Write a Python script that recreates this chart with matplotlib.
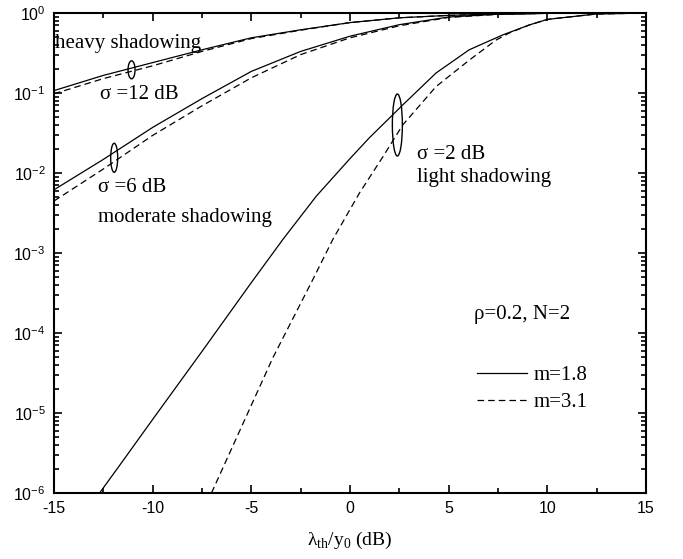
import numpy as np
import matplotlib
matplotlib.use('Agg')
import matplotlib.pyplot as plt
from matplotlib.patches import Ellipse
from matplotlib.transforms import ScaledTranslation
from matplotlib.ticker import LogLocator, FixedLocator, NullFormatter

plt.rcParams['axes.unicode_minus'] = False

# outage probability curves (x in dB, y as log10 value)
x_s12 = [-15, -12.5, -10, -7.5, -5, -2.5, 0, 2.5, 5, 7.5, 10, 12.5, 15]
s12_m18 = [-0.97, -0.78, -0.62, -0.46, -0.31, -0.21, -0.12, -0.06, -0.03, -0.012, -0.004, -0.001, 0.0]
s12_m31 = [-1.01, -0.82, -0.66, -0.48, -0.32, -0.215, -0.12, -0.06, -0.03, -0.012, -0.004, -0.001, 0.0]

x_s6 = [-15, -12.5, -10, -7.5, -5, -2.5, 0, 2.5, 5, 7.5, 10, 12.5, 15]
s6_m18 = [-2.21, -1.83, -1.43, -1.07, -0.73, -0.48, -0.29, -0.146, -0.05, -0.015, -0.004, -0.001, 0.0]
s6_m31 = [-2.35, -1.95, -1.53, -1.16, -0.81, -0.52, -0.31, -0.16, -0.055, -0.017, -0.004, -0.001, 0.0]

x_s2_m18 = [-12.69, -11.66, -10, -7.5, -5, -3.4, -1.71, 0, 0.98, 2.67, 4.36, 6.04, 7.73, 9.08, 10, 12.45, 15]
s2_m18 = [-6, -5.65, -5.08, -4.23, -3.37, -2.83, -2.29, -1.82, -1.56, -1.15, -0.75, -0.46, -0.275, -0.15, -0.08, -0.013, 0.0]

x_s2_m31 = [-7.02, -3.91, -1.88, -0.87, 0.48, 1.66, 2.67, 4.36, 6.04, 7.39, 8.07, 9.08, 10, 12.45, 15]
s2_m31 = [-6, -4.31, -3.33, -2.83, -2.25, -1.80, -1.40, -0.92, -0.59, -0.34, -0.25, -0.15, -0.08, -0.013, 0.0]

legend_labels = ['m=1.8', 'm=3.1']

serif = ['Liberation Serif', 'DejaVu Serif']
sans = ['Liberation Sans', 'DejaVu Sans']

fig = plt.figure(figsize=(6.83, 5.59), dpi=100)
ax = fig.add_axes([54 / 683, 1 - 493 / 559, 592 / 683, 480 / 559])

lw = 0.9
dash = (5.3, 3.2)
curves = [(x_s12, s12_m18, s12_m31), (x_s6, s6_m18, s6_m31)]
for xs, ys_a, ys_b in curves:
    ax.plot(xs, 10 ** np.array(ys_a), color='black', lw=lw)
    ax.plot(xs, 10 ** np.array(ys_b), color='black', lw=lw, dashes=dash)
l1, = ax.plot(x_s2_m18, 10 ** np.array(s2_m18), color='black', lw=lw)
l2, = ax.plot(x_s2_m31, 10 ** np.array(s2_m31), color='black', lw=lw, dashes=dash)

ax.set_yscale('log')
ax.set_xlim(-15, 15)
ax.set_ylim(1e-6, 1e0)

# ticks
ax.xaxis.set_major_locator(FixedLocator([-15, -10, -5, 0, 5, 10, 15]))
ax.xaxis.set_minor_locator(FixedLocator(np.arange(-12.5, 15, 5)))
ax.set_xticklabels(['-15', '-10', '-5', '0', '5', '10', '15'], family=sans, fontsize=11.5)
ax.yaxis.set_major_locator(FixedLocator([1e-6, 1e-5, 1e-4, 1e-3, 1e-2, 1e-1, 1e0]))
ax.yaxis.set_minor_locator(LogLocator(base=10, subs=np.arange(2, 10), numticks=20))
ax.yaxis.set_minor_formatter(NullFormatter())
ax.set_yticklabels([r'$\mathregular{10^{%d}}$' % e for e in range(-6, 1)], family=sans, fontsize=11.5)
ax.tick_params(which='both', direction='in', top=True, right=True, width=1.2)
ax.tick_params(which='major', length=6, pad=6)
ax.tick_params(which='minor', length=3.5)
for s in ax.spines.values():
    s.set_linewidth(1.5)

ax.set_xlabel(r'λ$_{\mathregular{th}}$/y$_{\mathregular{0}}$ (dB)', family=serif, fontsize=14, labelpad=10)

# annotations
tk = dict(family=serif, fontsize=15, ha='left', va='center')
ax.text(-14.95, 0.42, 'heavy shadowing', **tk)
ax.text(-12.67, 0.097, 'σ =12 dB', **tk)
ax.text(-12.77, 0.0065, 'σ =6 dB', **tk)
ax.text(-12.77, 0.0028, 'moderate shadowing', **tk)
ax.text(3.41, 0.0168, 'σ =2 dB', **tk)
ax.text(3.41, 0.0087, 'light shadowing', **tk)
ax.text(6.30, 1.68e-4, 'ρ=0.2, N=2', **tk)

# grouping ellipses (size in inches, centred on data points)
for (cx, cy, w, h) in [(-11.07, 0.195, 0.07, 0.18), (-11.95, 0.0155, 0.07, 0.29), (2.40, 0.0398, 0.10, 0.62)]:
    tr = fig.dpi_scale_trans + ScaledTranslation(cx, cy, ax.transData)
    ax.add_patch(Ellipse((0, 0), w, h, transform=tr, fill=False, lw=1.0, color='black'))

ax.legend([l1, l2], legend_labels, loc='upper left', bbox_to_anchor=(0.715, 0.266),
          frameon=False, handlelength=2.4, handletextpad=0.3, labelspacing=0.38,
          borderpad=0, borderaxespad=0, prop={'family': serif, 'size': 15})

fig.savefig('out.png', dpi=100)
